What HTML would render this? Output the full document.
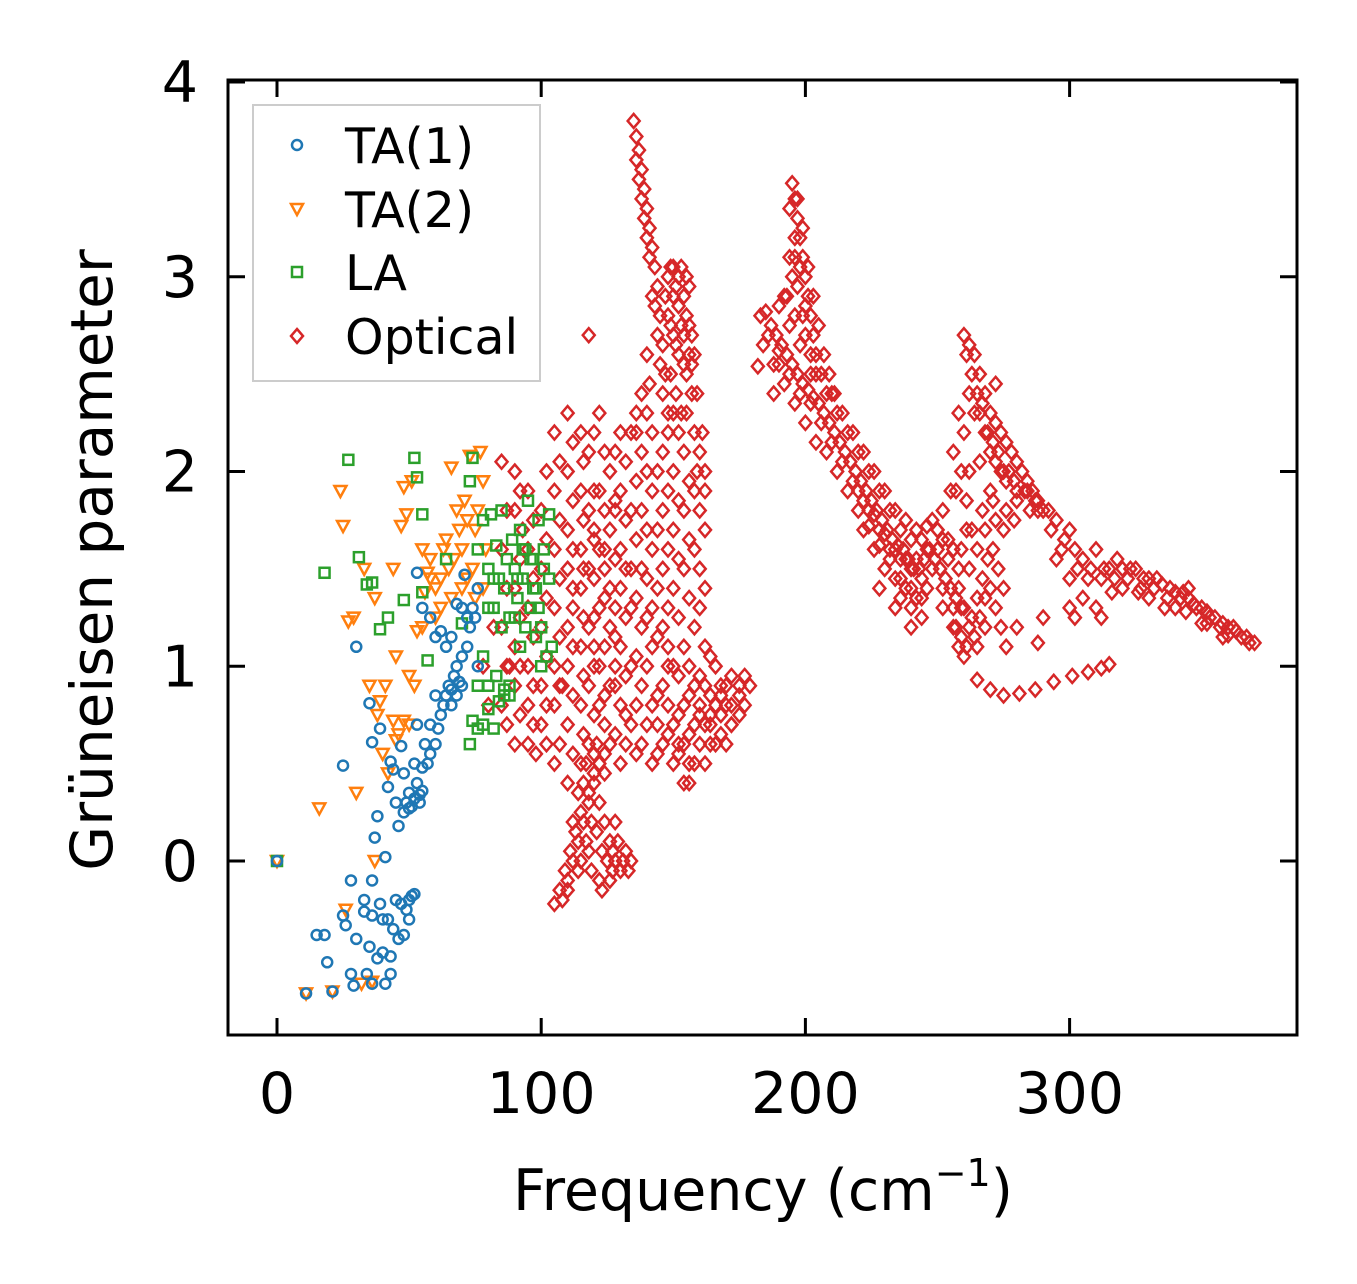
<!DOCTYPE html>
<html><head><meta charset="utf-8"><style>
html,body{margin:0;padding:0;background:#fff;}
svg{display:block;font-family:"DejaVu Sans","Liberation Sans",sans-serif;}
</style></head><body>
<svg id="chart" width="1357" height="1284" viewBox="0 0 1357 1284" xmlns="http://www.w3.org/2000/svg">
<rect width="1357" height="1284" fill="#fff"/>
<g id="marks"></g>
<rect x="228" y="80" width="1069" height="955" fill="none" stroke="#000" stroke-width="3"/>
<g id="ticks"></g>
<text x="763" y="1210" font-size="57" text-anchor="middle">Frequency (cm<tspan dy="-24" font-size="38">−1</tspan><tspan dy="24">)</tspan></text>
<text transform="translate(112,560) rotate(-90)" font-size="58" text-anchor="middle">Grüneisen parameter</text>
<g>
<rect x="253" y="105" width="287" height="276" fill="#fff" fill-opacity="0.8" stroke="#ccc" stroke-width="2"/>
<circle cx="297" cy="145" r="5" fill="none" stroke="#1f77b4" stroke-width="2.5"/>
<text x="345" y="163" font-size="49">TA(1)</text>
<polygon points="291,204 303,204 297,215" fill="none" stroke="#ff7f0e" stroke-width="2.5"/>
<text x="345" y="227" font-size="49">TA(2)</text>
<rect x="292" y="267" width="10" height="10" fill="none" stroke="#2ca02c" stroke-width="2.5"/>
<text x="345" y="290" font-size="49">LA</text>
<polygon points="297,329 303,336 297,343 291,336" fill="none" stroke="#d62728" stroke-width="2.5"/>
<text x="345" y="354" font-size="49">Optical</text>
</g>
</svg>
<script>
const xTicks = [0, 100, 200, 300];
const yTicks = [0, 1, 2, 3, 4];
const ta1Points = [[0,0],[11,-0.68],[21,-0.67],[15,-0.38],[18,-0.38],[19,-0.52],[25,-0.28],[26,-0.33],[28,-0.58],[30,-0.4],[29,-0.64],[34,-0.58],[35,-0.44],[36,-0.63],[38,-0.5],[40,-0.47],[41,-0.63],[43,-0.58],[43,-0.49],[33,-0.2],[33,-0.26],[36,-0.28],[39,-0.22],[40,-0.3],[42,-0.3],[44,-0.35],[46,-0.4],[48,-0.38],[45,-0.2],[47,-0.22],[49,-0.25],[50,-0.2],[51,-0.18],[52,-0.17],[50,-0.3],[28,-0.1],[36,-0.1],[25,0.49],[30,1.1],[35,0.81],[36,0.61],[37,0.12],[38,0.23],[39,0.68],[41,0.02],[42,0.38],[43,0.51],[44,0.47],[45,0.3],[46,0.18],[47,0.59],[48,0.25],[49,0.3],[50,0.35],[51,0.28],[52,0.32],[53,0.4],[54,0.3],[55,0.36],[53,0.7],[55,0.48],[57,0.5],[58,0.55],[60,0.6],[61,0.68],[62,0.75],[63,0.8],[64,0.85],[65,0.9],[66,0.88],[67,0.95],[68,1.0],[69,0.92],[70,1.05],[72,1.1],[73,1.2],[74,1.3],[75,1.25],[76,1.0],[76,1.4],[71,1.47],[53,1.48],[55,1.3],[58,1.25],[60,1.15],[62,1.18],[64,1.1],[66,1.15],[68,1.32],[70,1.3],[72,1.25],[60,0.85],[58,0.7],[56,0.6],[52,0.5],[48,0.45],[66,0.8],[68,0.85],[70,0.9],[54,0.34],[50,0.27]];
const ta2Points = [[0,0],[11,-0.68],[16,0.27],[21,-0.67],[24,1.9],[25,1.72],[26,-0.25],[27,1.23],[29,1.25],[30,0.35],[32,-0.63],[33,1.5],[35,0.9],[36,-0.62],[37,1.35],[38,0.75],[39,0.82],[40,0.55],[41,0.9],[42,0.45],[44,1.5],[45,1.05],[46,0.65],[47,1.72],[48,1.92],[49,1.78],[50,0.7],[51,1.95],[52,0.9],[53,1.18],[55,1.6],[56,1.38],[57,1.48],[58,1.45],[60,1.4],[62,1.3],[63,1.6],[64,1.65],[65,1.5],[66,2.02],[67,1.55],[68,1.8],[69,1.7],[70,1.6],[71,1.85],[72,1.75],[73,2.08],[74,1.5],[75,1.7],[76,1.8],[77,2.1],[78,1.95],[79,1.6],[78,1.4],[75,1.35],[72,1.45],[70,1.4],[66,1.35],[62,1.45],[58,1.55],[60,1.25],[37,0.0],[45,0.62],[50,0.95],[55,1.2],[44,0.72],[48,0.72]];
const laPoints = [[0,0],[18,1.48],[27,2.06],[31,1.56],[34,1.42],[36,1.43],[39,1.19],[42,1.25],[48,1.34],[52,2.07],[53,1.97],[55,1.78],[55,1.38],[57,1.03],[64,1.55],[70,1.22],[73,1.95],[74,2.07],[73,0.6],[74,0.72],[76,0.68],[78,0.7],[80,0.78],[82,0.68],[84,0.82],[86,0.88],[88,0.85],[76,1.6],[78,1.75],[80,1.5],[81,1.78],[82,1.3],[83,1.62],[84,1.45],[85,1.8],[86,1.4],[87,1.55],[88,1.25],[89,1.65],[90,1.5],[91,1.35],[92,1.7],[93,1.45],[94,1.6],[95,1.85],[96,1.3],[97,1.55],[98,1.4],[99,1.75],[100,1.2],[101,1.5],[102,1.05],[103,1.78],[104,1.1],[100,1.0],[98,1.15],[96,1.55],[94,1.2],[92,1.1],[90,1.25],[85,1.2],[82,1.45],[80,1.3],[78,1.05],[76,0.9],[80,0.9],[83,0.95],[86,0.85],[88,0.9],[91,1.45],[93,1.6],[97,1.4],[101,1.6],[103,1.45],[99,1.3]];
const opticalPoints = [
[85,0.8],[85,1.2],[85,1.6],[85,2.05],[90,0.6],[90,0.9],[90,1.1],[90,1.4],[90,1.8],[90,2.0],[95,0.6],[95,0.8],[95,1.0],[95,1.3],[95,1.6],[95,1.9],[100,0.7],[100,0.9],[100,1.2],[100,1.5],[100,1.8],
[105,0.5],[105,0.8],[105,1.0],[105,1.3],[105,1.6],[105,1.9],[105,2.2],[110,0.4],[110,0.7],[110,1.0],[110,1.2],[110,1.5],[110,1.7],[110,2.0],[110,2.3],
[115,0.5],[115,0.8],[115,1.1],[115,1.4],[115,1.6],[115,1.9],[115,2.2],[118,0.3],[118,0.6],[118,0.9],[118,1.2],[118,1.5],[118,1.8],[118,2.1],[118,2.7],
[122,0.5],[122,0.8],[122,1.0],[122,1.3],[122,1.6],[122,1.9],[122,2.3],[126,0.6],[126,0.9],[126,1.2],[126,1.4],[126,1.7],[126,2.0],
[130,0.5],[130,0.8],[130,1.1],[130,1.4],[130,1.6],[130,1.9],[130,2.2],[134,0.7],[134,1.0],[134,1.3],[134,1.5],[134,1.8],[134,2.2],
[138,0.6],[138,0.9],[138,1.2],[138,1.5],[138,1.8],[138,2.1],[138,2.4],[142,0.5],[142,0.8],[142,1.1],[142,1.3],[142,1.6],[142,1.9],[142,2.2],
[146,0.6],[146,0.9],[146,1.2],[146,1.5],[146,1.8],[146,2.1],[150,0.5],[150,0.7],[150,1.0],[150,1.4],[150,1.7],[150,2.0],[150,2.3],
[154,0.4],[154,0.6],[154,0.8],[154,1.1],[154,1.5],[154,1.8],[154,2.1],[158,0.5],[158,0.7],[158,0.9],[158,1.2],[158,1.6],[158,1.9],
[162,0.5],[162,0.7],[162,0.9],[162,1.1],[162,1.4],[162,1.7],[162,2.0],[166,0.6],[166,0.8],[166,1.0],[170,0.6],[170,0.8],[170,0.9],[175,0.75],[175,0.85],[175,0.9],[179,0.9],
[120,1.1],[124,1.5],[120,1.7],[124,0.7],[128,1.0],[128,1.8],[112,1.3],[108,0.9],[132,0.6],[144,0.7],[148,1.0],[152,0.6],[156,0.4],[160,0.8],[164,0.7],[168,0.9],[172,0.7],[102,0.6],[98,0.55],[88,1.0],[93,1.7],[82,1.2],[80,0.8],[78,1.0],
[105,-0.22],[108,-0.2],[110,-0.1],[112,0.0],[114,0.1],[116,0.2],[118,0.35],[120,0.4],[122,0.3],[124,0.2],[126,0.1],[128,0.0],[130,-0.05],[132,0.05],[134,0.0],[110,-0.15],[114,-0.05],[118,0.05],[122,-0.1],[126,-0.1],[112,0.2],[116,0.4],[120,0.55],[124,0.45],[128,0.2],
[135,3.8],[136,3.72],[137,3.65],[138,3.55],[139,3.45],[140,3.35],[141,3.25],[142,3.15],[143,3.05],[144,2.95],[145,2.8],[146,2.65],[147,2.5],[138,3.4],[140,3.2],[142,2.9],[140,2.6],[141,2.45],[136,2.2],
[148,3.0],[150,3.05],[152,3.0],[154,2.9],[156,2.95],[148,2.8],[150,2.7],[152,2.6],[154,2.7],[156,2.75],[149,2.5],[151,2.4],[153,2.3],[155,2.5],[157,2.4],[158,2.2],[160,2.1],[162,1.9],[152,2.85],[154,2.55],[156,2.6],[150,2.9],[158,2.6],[146,2.4],[148,2.2],
[185,2.82],[187,2.75],[189,2.7],[191,2.65],[193,2.6],[195,2.55],[197,2.5],[199,2.45],[201,2.42],[203,2.38],[205,2.35],[207,2.3],[209,2.25],[211,2.2],[213,2.15],[215,2.1],[217,2.05],[219,2.0],[221,1.95],[223,1.9],[225,1.85],[227,1.8],[229,1.75],[231,1.7],[233,1.65],[235,1.62],[237,1.6],[239,1.55],[241,1.5],[243,1.5],[245,1.55],[247,1.6],[249,1.55],[251,1.5],[253,1.45],[255,1.4],[257,1.35],[259,1.3],
[188,2.55],[192,2.45],[196,2.35],[200,2.25],[204,2.15],[208,2.1],[212,2.0],[216,1.9],[220,1.8],[224,1.72],[228,1.62],[232,1.55],[236,1.45],[240,1.4],[246,1.4],[252,1.3],[256,1.2],
[190,2.85],[194,2.75],[198,2.65],[202,2.6],[206,2.5],[210,2.4],[214,2.3],[218,2.2],[222,2.1],[226,2.0],[230,1.9],[234,1.8],[238,1.75],[242,1.7],[246,1.72],[250,1.7],
[195,3.48],[196,3.4],[197,3.3],[198,3.2],[199,3.1],[200,3.0],[201,2.9],[202,2.8],[203,2.7],[204,2.6],[194,3.35],[196,3.2],[198,3.05],[200,2.85],[195,3.0],[193,2.9],[197,2.95],
[182,2.54],[183,2.8],[184,2.65],[188,2.4],[190,2.55],
[222,1.7],[226,1.6],[230,1.5],[234,1.45],[238,1.4],[242,1.35],[228,1.4],[234,1.3],[240,1.2],[244,1.25],
[250,1.7],[252,1.8],[254,1.65],[256,1.6],[258,1.5],[260,1.3],[262,1.2],[258,1.1],[260,1.05],[264,1.15],[266,1.25],[268,1.35],[270,1.4],[272,1.3],[274,1.2],[262,1.5],[265,1.6],[268,1.7],[272,1.75],[276,1.8],[280,1.85],[284,1.9],[288,1.8],[256,2.1],[258,2.3],[260,2.2],[262,2.0],[255,1.9],[276,1.1],[280,1.2],[270,1.9],[274,2.0],
[260,2.7],[262,2.65],[264,2.6],[266,2.5],[268,2.4],[270,2.3],[272,2.25],[274,2.2],[276,2.15],[278,2.1],[280,2.05],[282,2.0],[284,1.95],[286,1.9],[288,1.85],[290,1.8],[266,2.3],[270,2.1],[275,2.0],[266,2.05],[272,2.45],
[292,1.8],[295,1.75],[298,1.65],[300,1.7],[302,1.6],[305,1.55],[308,1.5],[310,1.6],[312,1.45],[315,1.5],[318,1.55],[320,1.5],[322,1.45],[325,1.5],[328,1.45],[330,1.45],[332,1.4],[335,1.42],[338,1.4],[340,1.38],[342,1.35],[345,1.35],[348,1.3],[350,1.3],[352,1.28],[355,1.25],[358,1.22],[360,1.2],[362,1.2],[365,1.15],[368,1.12],[370,1.12],[330,1.35],[340,1.3],[350,1.22],[358,1.15],[345,1.4],[320,1.4],[310,1.3],[300,1.45],[295,1.55],[305,1.35],[302,1.25],[312,1.25],[290,1.25],[288,1.12],[300,1.3],
[265,0.93],[270,0.88],[275,0.85],[281,0.86],[287,0.88],[294,0.92],[301,0.95],[307,0.97],[312,0.99],[315,1.01]
];
const opticalDensePoints = [
[87,0.7],[87,1.0],[87,1.4],[87,1.8],[92,0.75],[92,1.0],[92,1.25],[92,1.55],[92,1.9],[97,0.7],[97,0.9],[97,1.15],[97,1.45],[97,1.75],
[102,0.8],[102,1.05],[102,1.35],[102,1.65],[102,2.0],[107,0.6],[107,0.9],[107,1.15],[107,1.45],[107,1.75],[107,2.05],
[112,0.55],[112,0.85],[112,1.1],[112,1.4],[112,1.6],[112,1.85],[112,2.15],[116,0.65],[116,0.95],[116,1.25],[116,1.5],[116,1.75],[116,2.05],
[120,0.45],[120,0.75],[120,1.0],[120,1.25],[120,1.45],[120,1.65],[120,1.9],[120,2.2],[124,0.55],[124,0.85],[124,1.1],[124,1.35],[124,1.6],[124,1.8],[124,2.1],
[128,0.65],[128,0.9],[128,1.15],[128,1.3],[128,1.55],[128,1.85],[128,2.1],[132,0.75],[132,0.95],[132,1.25],[132,1.5],[132,1.75],[132,2.05],
[136,0.55],[136,0.8],[136,1.05],[136,1.35],[136,1.65],[136,1.95],[136,2.3],[140,0.7],[140,1.0],[140,1.25],[140,1.45],[140,1.7],[140,2.0],[140,2.3],
[144,0.55],[144,0.85],[144,1.15],[144,1.4],[144,1.7],[144,2.0],[148,0.65],[148,0.8],[148,1.1],[148,1.3],[148,1.6],[148,1.9],[148,2.3],
[152,0.55],[152,0.75],[152,0.95],[152,1.25],[152,1.55],[152,1.85],[152,2.2],[156,0.5],[156,0.65],[156,0.85],[156,1.0],[156,1.35],[156,1.65],[156,1.95],
[160,0.6],[160,0.75],[160,0.95],[160,1.3],[160,1.5],[160,1.8],[164,0.6],[164,0.75],[164,0.85],[164,1.05],[168,0.65],[168,0.75],[168,0.85],[172,0.7],[172,0.8],[172,0.95],[177,0.8],[177,0.95],
[136,3.6],[137,3.5],[139,3.3],[141,3.1],[143,2.85],[144,2.7],[145,2.55],[147,2.9],[149,2.75],[151,2.65],[153,2.75],[155,2.8],[157,2.7],[149,3.05],[153,3.05],[155,3.0],[151,2.95],[157,2.55],[159,2.4],[161,2.2],[159,2.0],[155,2.3],
[186,2.7],[190,2.62],[194,2.5],[198,2.4],[202,2.35],[206,2.25],[210,2.15],[214,2.05],[218,1.95],[222,1.85],[226,1.78],[230,1.68],[234,1.6],[238,1.55],[242,1.55],[246,1.6],[250,1.6],[254,1.55],[258,1.4],
[192,2.9],[196,2.8],[200,2.7],[204,2.5],[208,2.4],[212,2.3],[216,2.2],[220,2.1],[224,2.0],[228,1.9],[232,1.8],[236,1.7],[240,1.65],[244,1.65],[248,1.75],[252,1.65],
[197,3.4],[199,3.25],[201,3.05],[203,2.9],[205,2.75],[207,2.6],[209,2.5],[211,2.4],[196,3.1],[194,3.1],[199,2.8],[202,2.5],
[220,1.9],[224,1.8],[228,1.7],[232,1.6],[236,1.55],[240,1.5],[244,1.45],[248,1.5],[252,1.4],[256,1.3],[236,1.35],[240,1.3],[244,1.35],
[261,2.6],[263,2.5],[265,2.4],[267,2.35],[269,2.2],[271,2.15],[273,2.1],[277,2.0],[279,1.95],[283,1.9],[287,1.85],[262,2.4],[264,2.3],[268,2.2],[272,2.05],[276,1.95],[280,1.9],[285,1.8],
[257,1.2],[259,1.15],[261,1.1],[263,1.25],[265,1.35],[267,1.45],[269,1.55],[271,1.6],[273,1.5],[275,1.4],[263,1.7],[267,1.8],[271,1.85],[275,1.7],[279,1.75],[259,1.6],[261,1.7],[257,1.9],[259,2.0],[261,1.85],[265,1.1],[268,1.2],
[293,1.7],[297,1.6],[303,1.5],[307,1.45],[313,1.5],[317,1.45],[323,1.5],[327,1.4],[333,1.45],[337,1.35],[343,1.38],[347,1.32],[353,1.25],[357,1.2],[363,1.18],[367,1.15],[336,1.3],[344,1.28],[352,1.22],[360,1.16],[326,1.38],[316,1.38],
[107,-0.15],[109,-0.05],[111,0.05],[113,0.15],[115,0.25],[117,0.1],[119,0.2],[121,0.15],[123,0.05],[125,0.0],[127,0.05],[129,0.1],[131,0.0],[133,-0.05],[115,0.0],[119,-0.05],[123,-0.15],[127,-0.05],[117,0.5],[121,0.6],[114,0.35]
];
const NS = "http://www.w3.org/2000/svg";
function xScale(v){ return 277 + v * 2.642; }
function yScale(v){ return 861 - v * 194.75; }
const marks = document.getElementById('marks');
const ticks = document.getElementById('ticks');
function mk(tag, attrs){ const e = document.createElementNS(NS, tag); for (const k in attrs) e.setAttribute(k, attrs[k]); return e; }
function drawSeries(points, color, shape, name){
  const g = mk('g', {fill:'none', stroke:color, 'stroke-width':'2.5'});
  
  
  points.forEach(p => {
    const x = xScale(p[0]), y = yScale(p[1]);
    let e;
    if (shape === 'circle') e = mk('circle', {cx:x, cy:y, r:5});
    else if (shape === 'tri') e = mk('polygon', {points:`${x-6},${y-5} ${x+6},${y-5} ${x},${y+6}`});
    else if (shape === 'square') e = mk('rect', {x:x-5, y:y-5, width:10, height:10});
    else e = mk('polygon', {points:`${x},${y-7} ${x+6},${y} ${x},${y+7} ${x-6},${y}`});
    
    
    g.appendChild(e);
  });
  marks.appendChild(g);
}
drawSeries(opticalPoints, '#d62728', 'diamond', 'optical');
drawSeries(opticalDensePoints, '#d62728', 'diamond', 'optical-dense');
drawSeries(ta2Points, '#ff7f0e', 'tri', 'ta2');
drawSeries(laPoints, '#2ca02c', 'square', 'la');
drawSeries(ta1Points, '#1f77b4', 'circle', 'ta1');
xTicks.forEach(v => {
  const x = xScale(v);
  ticks.appendChild(mk('line', {x1:x, y1:1035, x2:x, y2:1018, stroke:'#000', 'stroke-width':3}));
  ticks.appendChild(mk('line', {x1:x, y1:80, x2:x, y2:97, stroke:'#000', 'stroke-width':3}));
  const t = mk('text', {x:x, y:1113, 'font-size':57, 'text-anchor':'middle'});
  t.textContent = v;
  
  
  ticks.appendChild(t);
});
yTicks.forEach(v => {
  const y = yScale(v);
  ticks.appendChild(mk('line', {x1:228, y1:y, x2:245, y2:y, stroke:'#000', 'stroke-width':3}));
  ticks.appendChild(mk('line', {x1:1297, y1:y, x2:1280, y2:y, stroke:'#000', 'stroke-width':3}));
  const t = mk('text', {x:198, y:y+20, 'font-size':57, 'text-anchor':'end'});
  t.textContent = v;
  
  
  ticks.appendChild(t);
});
</script>
</body></html>
